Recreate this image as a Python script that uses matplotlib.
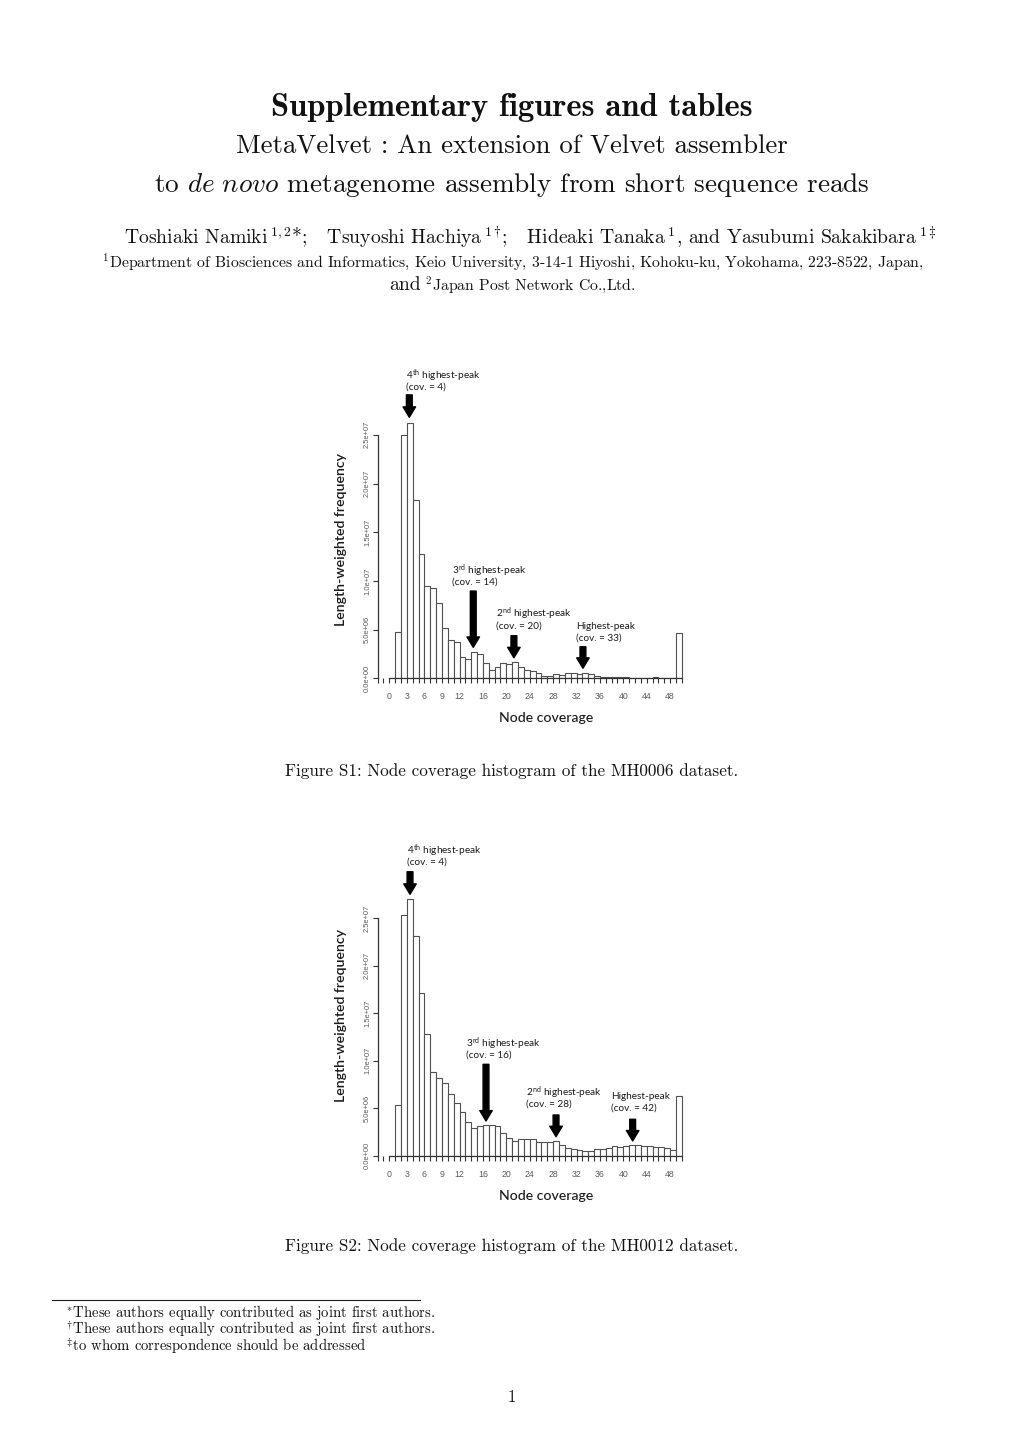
import matplotlib
matplotlib.use("Agg")
import matplotlib.pyplot as plt
from matplotlib.ticker import FixedLocator, MultipleLocator

W, H = 1020, 1442

# bin edges: coverage 1..50 (49 bars of width 1)
edges = list(range(1, 51))

# length-weighted frequency, in millions, MH0006 dataset
mh0006 = [4.73, 25.0, 26.2, 18.3, 12.8, 9.49, 9.32, 7.70, 5.20, 3.94,
          3.70, 2.19, 1.99, 2.67, 2.47, 1.58, 0.89, 1.16, 1.54, 1.47,
          1.68, 1.20, 0.86, 0.79, 0.51, 0.24, 0.24, 0.45, 0.38, 0.51,
          0.58, 0.41, 0.51, 0.45, 0.24, 0.12, 0.10, 0.10, 0.10, 0.10,
          0.08, 0.08, 0.08, 0.08, 0.17, 0.08, 0.06, 0.06, 4.62]

# length-weighted frequency, in millions, MH0012 dataset
mh0012 = [5.33, 25.3, 26.95, 23.1, 17.14, 12.79, 8.83, 8.13, 7.61, 6.50,
          5.55, 4.55, 3.52, 2.94, 3.15, 3.22, 3.22, 3.08, 2.42, 1.82,
          1.58, 1.79, 1.72, 1.79, 1.40, 1.40, 1.47, 1.50, 1.16, 0.77,
          0.67, 0.56, 0.53, 0.53, 0.67, 0.74, 0.81, 1.02, 0.91, 0.98,
          1.16, 1.09, 1.02, 0.98, 0.95, 0.88, 0.85, 0.55, 6.27]

xtick_labels = [0, 3, 6, 9, 12, 16, 20, 24, 28, 32, 36, 40, 44, 48]
ytick_vals = [0, 5e6, 1e7, 1.5e7, 2e7, 2.5e7]
ytick_text = ["0.0e+00", "5.0e+06", "1.0e+07", "1.5e+07", "2.0e+07", "2.5e+07"]

# peak annotations: (ordinal, suffix, cov text, text x, text y, arrow x, arrow top, arrow tip)
peaks1 = [("4", "th", "4", 2.85, 31.1, 3.42, 29.1, 26.8),
          ("3", "rd", "14", 10.67, 11.05, 14.35, 8.96, 3.18),
          ("2", "nd", "20", 18.19, 6.6, 21.3, 4.37, 2.11),
          ("", "", "33", 31.9, 5.37, 33.1, 3.24, 1.03)]
peaks2 = [("4", "th", "4", 3.08, 32.07, 3.54, 29.86, 27.49),
          ("3", "rd", "16", 13.1, 11.82, 16.53, 9.61, 3.65),
          ("2", "nd", "28", 23.37, 6.67, 28.5, 4.28, 2.0),
          ("", "", "42", 37.9, 6.2, 41.6, 3.83, 1.55)]

plt.rcParams["mathtext.fontset"] = "cm"
plt.rcParams["axes.formatter.use_mathtext"] = True

fig = plt.figure(figsize=(W / 100, H / 100), dpi=100, facecolor="white")


def px(x, y):
    return x / W, 1 - y / H


def page_text(x, y, s, size, family="cmr10", ha="center", **kw):
    fig.text(*px(x, y), s, fontsize=size, family=family, ha=ha, va="center",
             color="#111111", **kw)


# header
page_text(512, 108, "Supplementary figures and tables", 23.5, family="cmb10")
page_text(512, 147, "MetaVelvet : An extension of Velvet assembler", 19.3)
page_text(512, 185, r"to $\mathit{de\ novo}$ metagenome assembly from short sequence reads", 19.6)
page_text(530, 237, r"Toshiaki Namiki$\,^{1,2}$*;   Tsuyoshi Hachiya$\,^{1}$$^{\dagger}$;   "
          r"Hideaki Tanaka$\,^{1}$, and Yasubumi Sakakibara$\,^{1}$$^{\ddagger}$", 14.2)
page_text(513, 262, r"$^{1}$Department of Biosciences and Informatics, Keio University, "
          r"3-14-1 Hiyoshi, Kohoku-ku, Yokohama, 223-8522, Japan,", 11.3)
page_text(421, 285, "and", 14.2, ha="right")
page_text(425, 285, r"$^{2}$Japan Post Network Co.,Ltd.", 11.3, ha="left")

page_text(512, 771, "Figure S1: Node coverage histogram of the MH0006 dataset.", 12.3)
page_text(512, 1246, "Figure S2: Node coverage histogram of the MH0012 dataset.", 12.3)

# footnotes
fig.add_artist(plt.Line2D([52 / W, 420 / W], [1 - 1300 / H, 1 - 1300 / H],
                          color="#222222", linewidth=0.8))
page_text(66, 1312, r"$^{*}$These authors equally contributed as joint first authors.", 10.6, ha="left")
page_text(66, 1329, r"$^{\dagger}$These authors equally contributed as joint first authors.", 10.6, ha="left")
page_text(66, 1346, r"$^{\ddagger}$to whom correspondence should be addressed", 10.6, ha="left")
page_text(512, 1397, "1", 12)


def histogram(rect, values, peaks, ytop, ylab_y, xlab_y):
    ax = fig.add_axes(rect)
    ax.bar(edges[:-1], [v * 1e6 for v in values], width=1, align="edge",
           facecolor="white", edgecolor="#505050", linewidth=0.8)
    ax.set_xlim(-2, 50.5)
    ax.set_ylim(0, ytop)
    for s in ("top", "right"):
        ax.spines[s].set_visible(False)
    ax.spines["left"].set_bounds(0, 2.5e7)
    ax.spines["bottom"].set_bounds(0, 50)
    ax.spines["bottom"].set_position(("data", 0))
    for s in ("left", "bottom"):
        ax.spines[s].set_color("#333333")
        ax.spines[s].set_linewidth(0.9)

    ax.xaxis.set_major_locator(FixedLocator(xtick_labels))
    ax.xaxis.set_minor_locator(MultipleLocator(1))
    ax.set_xticklabels([str(v) for v in xtick_labels])
    ax.tick_params(axis="x", which="both", direction="out", length=3.5,
                   width=0.8, color="#333333")
    ax.tick_params(axis="x", which="major", labelsize=6.3, labelcolor="#5a5a5a", pad=6.5)
    for lab in ax.get_xticklabels():
        lab.set_family("Liberation Sans")

    ax.set_yticks(ytick_vals)
    ax.set_yticklabels(ytick_text)
    ax.tick_params(axis="y", direction="out", length=3.5, width=0.8, color="#333333",
                   labelsize=5.4, labelcolor="#5a5a5a", pad=1.2, labelrotation=90)
    for lab in ax.get_yticklabels():
        lab.set_family("Liberation Sans")
        lab.set_va("center")

    ax.text(-0.119, ylab_y, "Length-weighted frequency", transform=ax.transAxes,
            rotation=90, ha="center", va="center", fontsize=10.2, family="Lato",
            weight="semibold", color="#1a1a1a")
    ax.text(0.548, xlab_y, "Node coverage", transform=ax.transAxes, ha="center",
            va="center", fontsize=10.2, family="Lato", weight="medium", color="#1a1a1a")

    for num, sup, cov, tx, ty, axx, atop, atip in peaks:
        if num:
            label = num + r"$^{\mathregular{" + sup + r"}}$ highest-peak"
        else:
            label = "Highest-peak"
        ax.text(tx, ty * 1e6, label, ha="left", va="center", fontsize=7.2,
                family="Lato", color="#1a1a1a")
        ax.text(tx, (ty - 1.2) * 1e6, "(cov. = " + cov + ")", ha="left",
                va="center", fontsize=7.2, family="Lato", color="#1a1a1a")
        ax.annotate("", xy=(axx, atip * 1e6), xytext=(axx, atop * 1e6),
                    arrowprops=dict(arrowstyle="simple,head_length=0.75,head_width=0.9,tail_width=0.42",
                                    mutation_scale=10, fc="black", ec="black",
                                    shrinkA=0, shrinkB=0))
    return ax


histogram([0.3702, 0.5296, 0.3011, 0.2229], mh0006, peaks1, 3.3e7, 0.433, -0.1235)
histogram([0.3702, 0.19854, 0.3011, 0.2242], mh0012, peaks2, 3.4e7, 0.435, -0.1247)

fig.savefig("out.png", dpi=100, facecolor="white")
